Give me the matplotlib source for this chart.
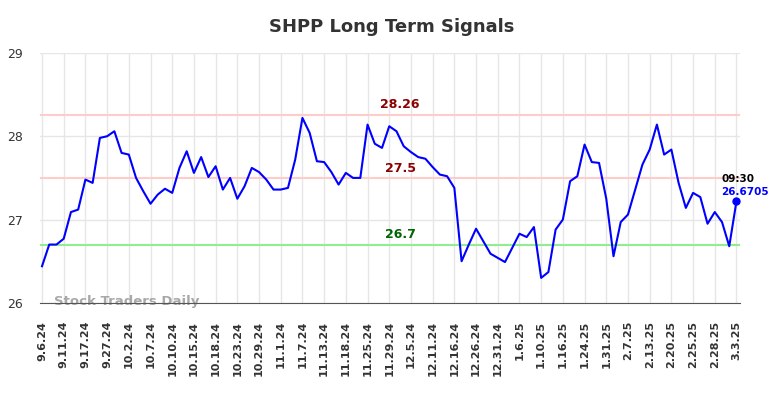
"""SHPP long term signals chart."""

import matplotlib

matplotlib.use("Agg")
import matplotlib.pyplot as plt
import numpy as np


TICK_LABELS = [
    "9.6.24", "9.11.24", "9.17.24", "9.27.24", "10.2.24", "10.7.24", "10.10.24",
    "10.15.24", "10.18.24", "10.23.24", "10.29.24", "11.1.24", "11.7.24", "11.13.24",
    "11.18.24", "11.25.24", "11.29.24", "12.5.24", "12.11.24", "12.16.24", "12.26.24",
    "12.31.24", "1.6.25", "1.10.25", "1.16.25", "1.24.25", "1.31.25", "2.7.25",
    "2.13.25", "2.20.25", "2.25.25", "2.28.25", "3.3.25",
]

PRICES = [
    26.44, 26.70, 26.70, 26.77, 27.09, 27.12, 27.48, 27.44, 27.98, 28.00,
    28.06, 27.80, 27.78, 27.50, 27.34, 27.19, 27.30, 27.37, 27.32, 27.62,
    27.82, 27.56, 27.75, 27.51, 27.64, 27.36, 27.50, 27.25, 27.40, 27.62,
    27.57, 27.48, 27.36, 27.36, 27.38, 27.72, 28.22, 28.04, 27.70, 27.69,
    27.57, 27.42, 27.56, 27.50, 27.50, 28.14, 27.91, 27.86, 28.12, 28.06,
    27.88, 27.81, 27.75, 27.73, 27.63, 27.54, 27.52, 27.38, 26.50, 26.70,
    26.89, 26.74, 26.59, 26.54, 26.49, 26.66, 26.83, 26.79, 26.91, 26.30,
    26.37, 26.88, 27.00, 27.46, 27.52, 27.90, 27.69, 27.68, 27.25, 26.56,
    26.97, 27.06, 27.36, 27.66, 27.84, 28.14, 27.78, 27.84, 27.44, 27.14,
    27.32, 27.27, 26.95, 27.09, 26.97, 26.68, 27.22,
]

RESISTANCE = [28.26, 27.5]
SUPPORT = [26.7]
LAST_TIME = "09:30"
LAST_LABEL = "26.6705"
POINTS_PER_TICK = 3


def main() -> int:
    fig = plt.figure(figsize=(7.84, 3.98), dpi=100)
    ax = fig.add_axes([0.051, 0.239, 0.893, 0.628])

    x = np.arange(len(PRICES))
    ax.set_xlim(-0.28, len(PRICES) - 0.5)
    ax.set_ylim(26, 29)

    ticks = x[::POINTS_PER_TICK]
    ax.set_xticks(ticks, TICK_LABELS, rotation=90, fontsize=8,
                  fontweight="bold", color="#333333")
    ax.set_yticks([26, 27, 28, 29])
    ax.tick_params(axis="y", labelsize=9, colors="#333333", length=0, pad=12)
    ax.tick_params(axis="x", length=0, pad=13)
    ax.grid(True, color="#e6e6e6", linewidth=1)
    ax.set_axisbelow(True)
    for side in ("top", "right", "left"):
        ax.spines[side].set_visible(False)
    ax.spines["bottom"].set_color("#555555")

    label_x = 49.5
    for level in RESISTANCE:
        ax.axhline(level, color="#ffcccc", linewidth=1.5, zorder=1)
        ax.text(label_x, level + 0.04, f"{level:g}", color="#8b0000",
                fontsize=9, fontweight="bold", ha="center", va="bottom")
    for level in SUPPORT:
        ax.axhline(level, color="#90ee90", linewidth=1.5, zorder=1)
        ax.text(label_x, level + 0.04, f"{level:g}", color="#006400",
                fontsize=9, fontweight="bold", ha="center", va="bottom")

    ax.plot(x, PRICES, color="#0000ff", linewidth=1.5, zorder=3)
    ax.plot(x[-1], PRICES[-1], "o", color="#0000ff", markersize=5, zorder=4)
    ax.annotate(LAST_TIME, (x[-1], PRICES[-1]), xytext=(-11, 16),
                textcoords="offset points", fontsize=7.5, fontweight="bold",
                color="#000000", ha="left", va="center")
    ax.annotate(LAST_LABEL, (x[-1], PRICES[-1]), xytext=(-11, 7),
                textcoords="offset points", fontsize=7.5, fontweight="bold",
                color="#0000ff", ha="left", va="center")

    ax.text(1.6, 26.02, "Stock Traders Daily", fontsize=9.5, fontweight="bold",
            color="#999999", alpha=0.85, ha="left", va="center", zorder=2)

    fig.suptitle("SHPP Long Term Signals", x=0.5, y=0.955, fontsize=13,
                 fontweight="bold", color="#333333")

    fig.savefig("out.png", dpi=100)
    plt.close(fig)
    return 0


if __name__ == "__main__":
    raise SystemExit(main())
